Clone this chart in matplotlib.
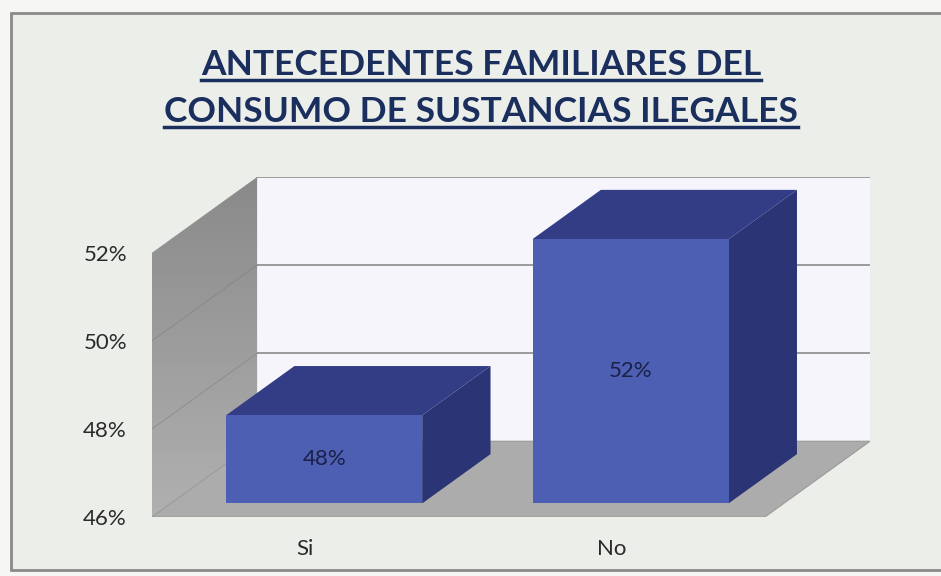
import matplotlib.pyplot as plt
import numpy as np
from matplotlib.patches import Polygon, Rectangle

# data
categories = ["Si", "No"]
values = [48, 52]
value_labels = ["48%", "52%"]
y_ticks = [46, 48, 50, 52]
y_tick_labels = ["46%", "48%", "50%", "52%"]
title_lines = ["ANTECEDENTES FAMILIARES DEL", "CONSUMO DE SUSTANCIAS ILEGALES"]

# fake 3d geometry (data units)
DX, DY = 0.343, 1.72  # depth offset of back wall
F0, F1 = 0.18, 0.83  # bar depth range as fraction of DX/DY
BAR_W = 0.64
Y0, Y1 = 46, 52

plt.rcParams["font.family"] = ["Lato", "DejaVu Sans"]

fig = plt.figure(figsize=(9.41, 5.76), dpi=100)
fig.patch.set_facecolor("#f6f7f4")

# chart frame
bg = fig.add_axes([0, 0, 1, 1], zorder=-5)
bg.set_xlim(0, 941)
bg.set_ylim(576, 0)
bg.axis("off")
bg.add_patch(Rectangle((11, 13), 940, 557, facecolor="#eceee9",
                       edgecolor="#8a8a8a", linewidth=2))

W, H = 941, 576
left, right, bottom, top = 152, 870, 517, 177
ax = fig.add_axes([left / W, 1 - bottom / H, (right - left) / W, (bottom - top) / H])
ax.set_xlim(-0.5, 1.5 + DX)
ax.set_ylim(Y0, Y1 + DY)
for s in ax.spines.values():
    s.set_visible(False)
ax.patch.set_alpha(0)

# back wall
ax.add_patch(Polygon([(-0.5 + DX, Y0 + DY), (1.5 + DX, Y0 + DY),
                      (1.5 + DX, Y1 + DY), (-0.5 + DX, Y1 + DY)],
                     closed=True, facecolor="#f5f5fb", edgecolor="none", zorder=1))
for t in y_ticks[1:]:
    ax.plot([-0.5 + DX, 1.5 + DX], [t + DY, t + DY], color="#8c8c8c", lw=1.2, zorder=2)

# left wall with gradient
wall = Polygon([(-0.5, Y0), (-0.5 + DX, Y0 + DY), (-0.5 + DX, Y1 + DY), (-0.5, Y1)],
               closed=True, facecolor="none", edgecolor="none")
ax.add_patch(wall)
grad = np.linspace(0, 1, 100).reshape(-1, 1)
im = ax.imshow(grad, extent=(-0.5, -0.5 + DX, Y0, Y1 + DY), origin="lower",
               cmap=plt.matplotlib.colors.LinearSegmentedColormap.from_list(
                   "wall", ["#b0b0b0", "#8a8a8a"]),
               aspect="auto", zorder=2)
im.set_clip_path(wall)
for t in y_ticks[1:-1]:
    ax.plot([-0.5, -0.5 + DX], [t, t + DY], color="#7e7e7e", lw=0.8, alpha=0.5, zorder=3)

# floor
ax.add_patch(Polygon([(-0.5, Y0), (1.5, Y0), (1.5 + DX, Y0 + DY), (-0.5 + DX, Y0 + DY)],
                     closed=True, facecolor="#acacac", edgecolor="#9a9a9a", lw=0.8, zorder=3))

# bars
for i, (v, lab) in enumerate(zip(values, value_labels)):
    x0 = i - BAR_W / 2 + F0 * DX
    x1 = i + BAR_W / 2 + F0 * DX
    yb = Y0 + F0 * DY
    yt = v + F0 * DY
    ddx = (F1 - F0) * DX
    ddy = (F1 - F0) * DY
    ax.add_patch(Polygon([(x1, yb), (x1 + ddx, yb + ddy), (x1 + ddx, yt + ddy), (x1, yt)],
                         closed=True, facecolor="#2b3474", edgecolor="none", zorder=5))
    ax.add_patch(Polygon([(x0, yt), (x1, yt), (x1 + ddx, yt + ddy), (x0 + ddx, yt + ddy)],
                         closed=True, facecolor="#323d86", edgecolor="none", zorder=5))
    ax.add_patch(Rectangle((x0, yb), x1 - x0, yt - yb, facecolor="#4d5fb3",
                           edgecolor="none", zorder=6))
    ax.text((x0 + x1) / 2, (yb + yt) / 2, lab, ha="center", va="center",
            fontsize=16, color="#1a2048", zorder=7)

ax.set_yticks(y_ticks)
ax.set_yticklabels(y_tick_labels)
ax.set_xticks(range(len(categories)))
ax.set_xticklabels(categories)
ax.tick_params(axis="y", length=0, pad=18, labelsize=16, labelcolor="#2a2a2a")
ax.tick_params(axis="x", length=0, pad=16, labelsize=16, labelcolor="#2a2a2a")

# title with underline
title_base = [75, 122]
texts = []
for line, ty in zip(title_lines, title_base):
    texts.append(fig.text(481 / W, 1 - ty / H, line, ha="center", va="baseline",
                          fontsize=25.5, fontweight="bold", color="#1b2f5e"))
fig.canvas.draw()
r = fig.canvas.get_renderer()
for t, ty in zip(texts, title_base):
    bb = t.get_window_extent(r)
    yline = H - (ty + 5)
    fig.add_artist(plt.Line2D([bb.x0 / W, bb.x1 / W], [yline / H, yline / H],
                              color="#1b2f5e", lw=2.5))

fig.savefig("out.png", dpi=100, facecolor=fig.get_facecolor())
